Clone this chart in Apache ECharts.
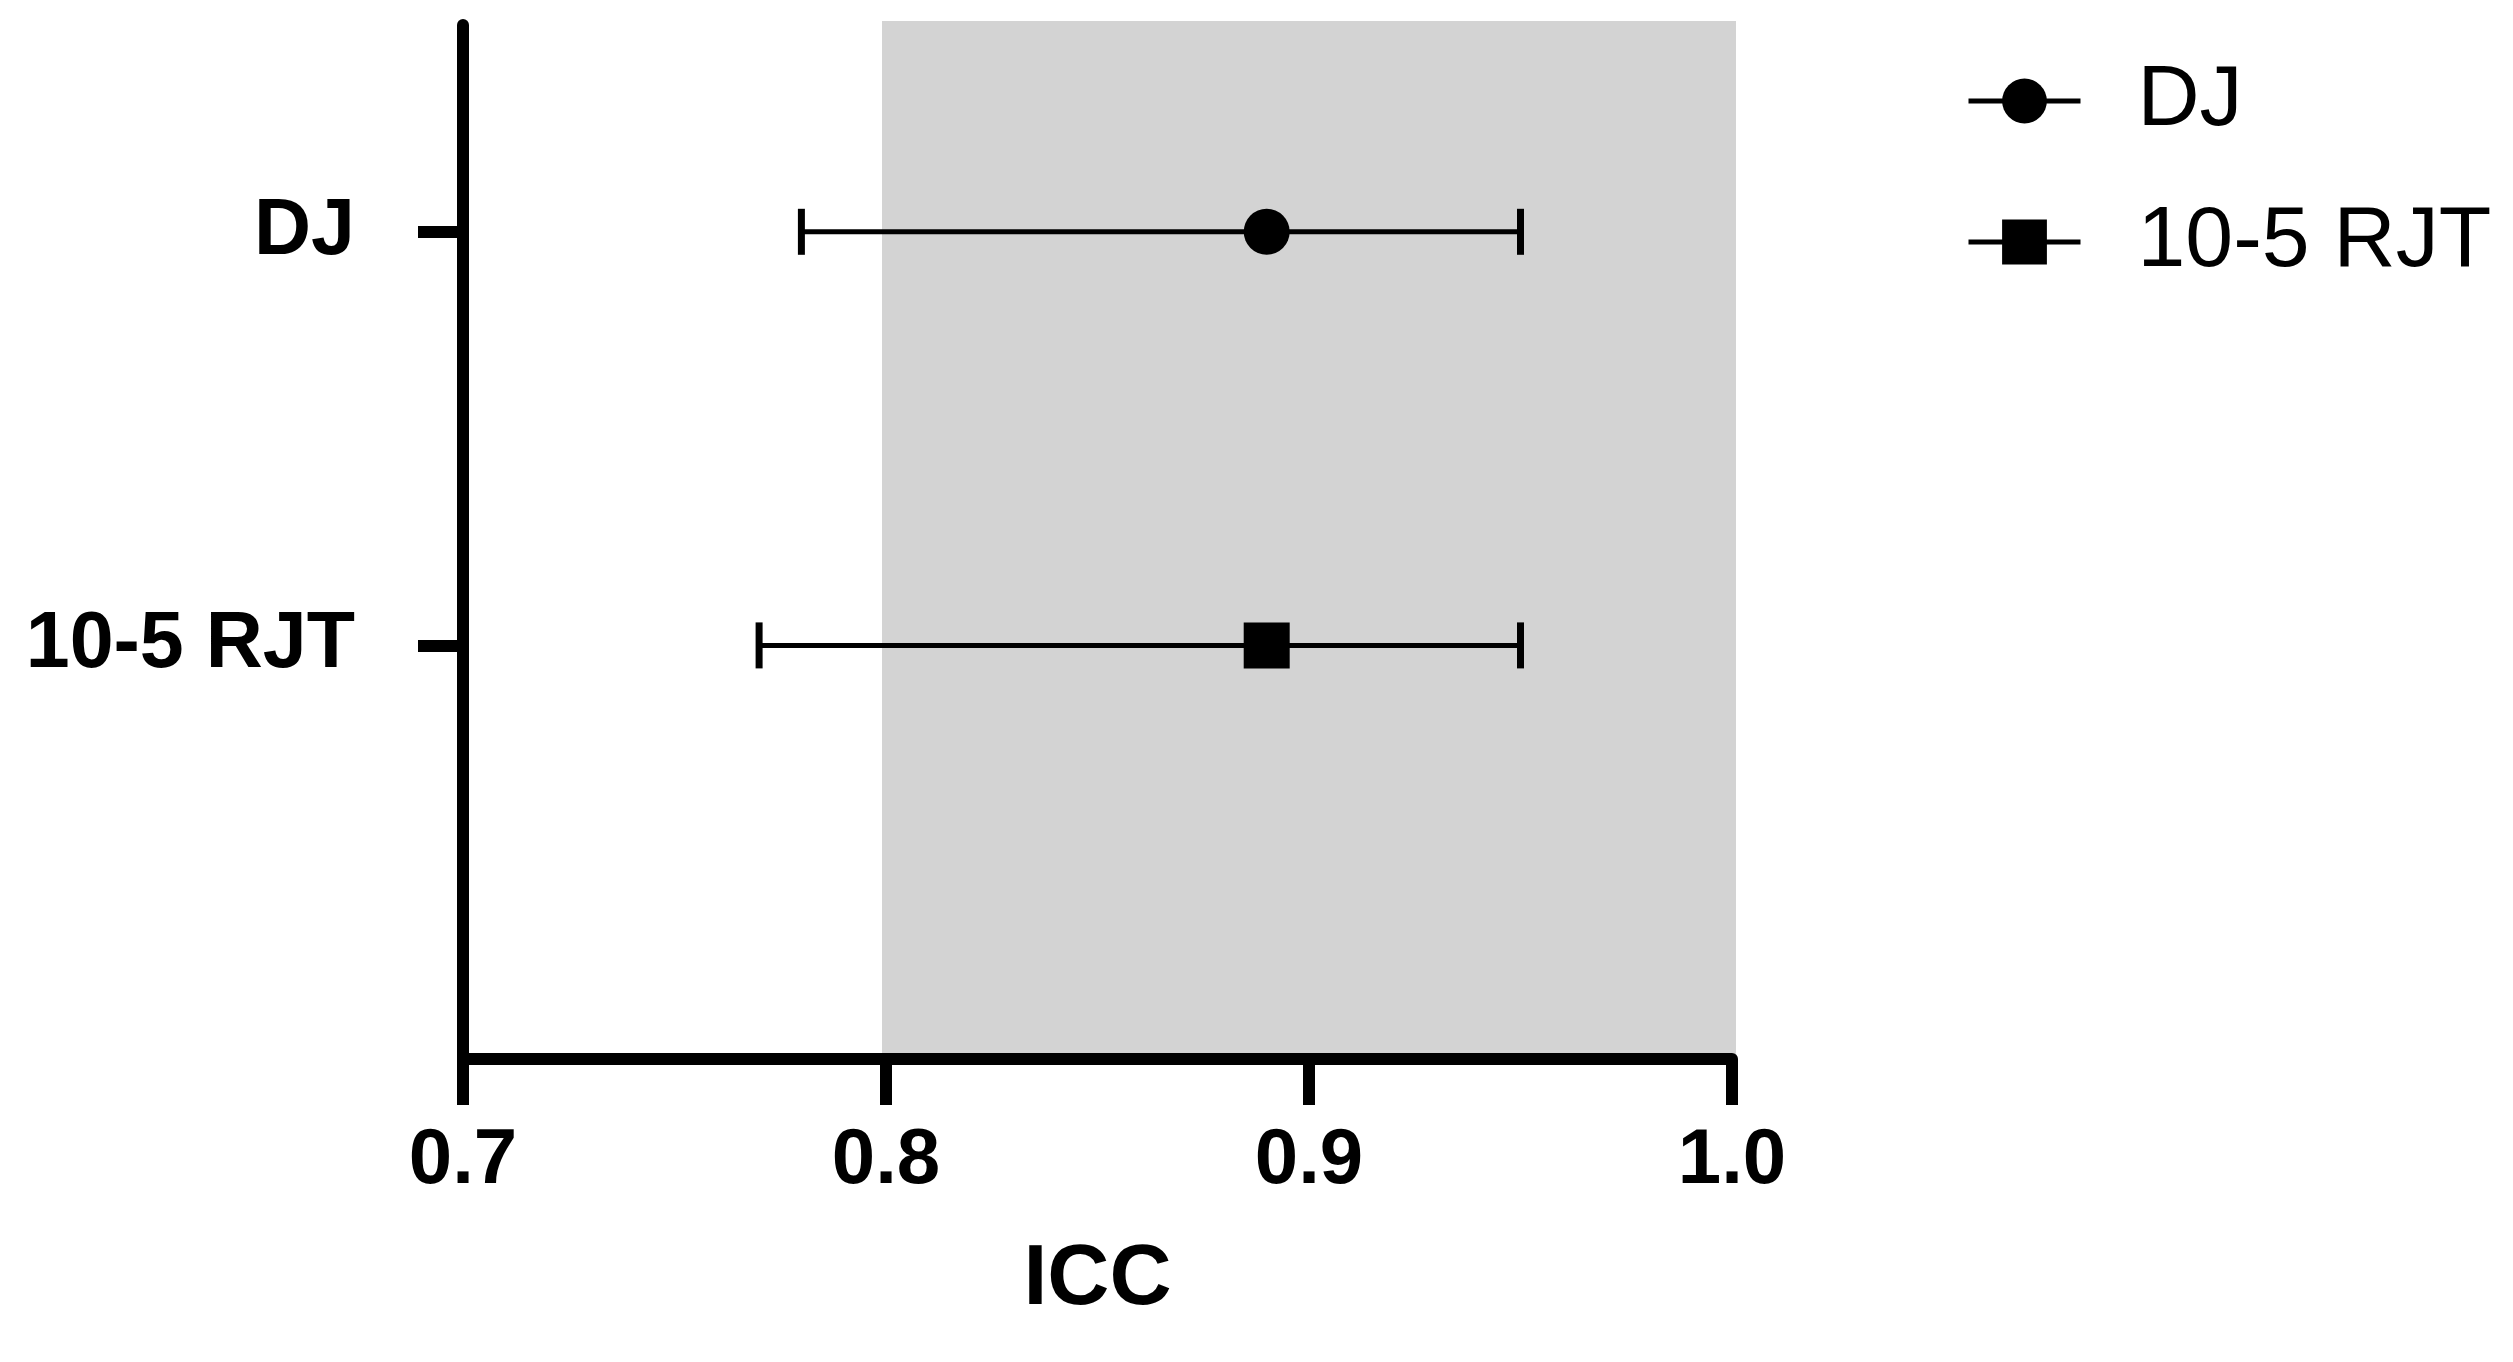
<!DOCTYPE html>
<html>
<head>
<meta charset="utf-8">
<script src="https://cdn.jsdelivr.net/npm/echarts@6/dist/echarts.min.js"></script>
<style>
  html, body { margin: 0; padding: 0; background: #fff; }
  #chart { width: 2513px; height: 1362px; }
</style>
</head>
<body>
<div id="chart"></div>
<script>
// rows on the y axis (value positions 2 = top, 1 = bottom)
const categories = ['DJ', '10-5 RJT']
const rowPos = [2, 1]
const iccValues = [0.89, 0.89]
const ciLower = [0.78, 0.77]
const ciUpper = [0.95, 0.95]
const symbols = ['circle', 'rect']
const xTicks = [0.7, 0.8, 0.9, 1.0]
const shadeRange = [0.8, 1.0]

const FONT = 'Liberation Sans, Arial, sans-serif'

const chart = echarts.init(document.getElementById('chart'))

const labelFor = v => {
  const i = rowPos.indexOf(v)
  return i >= 0 ? categories[i] : ''
}

const errorData = categories.map((c, i) => [ciLower[i], ciUpper[i], rowPos[i]])

const renderErrorBar = (params, api) => {
  const y = api.value(2)
  const p1 = api.coord([api.value(0), y])
  const p2 = api.coord([api.value(1), y])
  const h = 23
  const capStyle = { stroke: '#000', lineWidth: 7 }
  return {
    type: 'group',
    children: [
      { type: 'line', shape: { x1: p1[0], y1: p1[1], x2: p2[0], y2: p2[1] }, style: { stroke: '#000', lineWidth: 5 } },
      { type: 'line', shape: { x1: p1[0], y1: p1[1] - h, x2: p1[0], y2: p1[1] + h }, style: capStyle },
      { type: 'line', shape: { x1: p2[0], y1: p2[1] - h, x2: p2[0], y2: p2[1] + h }, style: capStyle }
    ]
  }
}

const pointSeries = categories.map((name, i) => ({
  name: name,
  type: 'line',
  symbol: symbols[i],
  symbolSize: 46,
  itemStyle: { color: '#000' },
  lineStyle: { color: '#000', width: 5 },
  z: 5,
  data: [[iccValues[i], rowPos[i]]]
}))

const options = {
  animation: false,
  backgroundColor: '#fff',
  grid: {
    left: 463,
    right: 2513 - 1732,
    top: 25,
    bottom: 1362 - 1059,
    outerBoundsMode: 'none'
  },
  legend: {
    orient: 'vertical',
    left: 1966,
    top: 58,
    padding: 0,
    data: categories,
    itemWidth: 112,
    itemHeight: 56,
    itemGap: 55,
    lineStyle: { width: 5, color: '#000' },
    textStyle: {
      fontFamily: FONT,
      fontSize: 86,
      color: '#000',
      padding: [0, 0, 0, 52]
    }
  },
  xAxis: {
    type: 'value',
    min: xTicks[0],
    max: xTicks[xTicks.length - 1],
    interval: 0.1,
    z: 10,
    splitLine: { show: false },
    axisLine: { lineStyle: { color: '#000', width: 12 } },
    axisTick: { length: 46, lineStyle: { color: '#000', width: 12 } },
    axisLabel: {
      margin: 63,
      fontFamily: FONT,
      fontSize: 78,
      fontWeight: 'bold',
      color: '#000',
      formatter: v => v.toFixed(1)
    },
    name: 'ICC',
    nameLocation: 'middle',
    nameGap: 178,
    nameTextStyle: {
      fontFamily: FONT,
      fontSize: 86,
      fontWeight: 'bold',
      color: '#000'
    }
  },
  yAxis: {
    type: 'value',
    min: 0,
    max: 2.5,
    interval: 1,
    z: 10,
    splitLine: { show: false },
    axisLine: { lineStyle: { color: '#000', width: 12 } },
    axisTick: { length: 45, customValues: rowPos, lineStyle: { color: '#000', width: 12 } },
    axisLabel: {
      customValues: rowPos,
      margin: 108,
      fontFamily: FONT,
      fontSize: 79,
      fontWeight: 'bold',
      color: '#000',
      formatter: v => labelFor(v)
    }
  },
  series: [
    {
      type: 'custom',
      name: 'CI',
      renderItem: renderErrorBar,
      encode: { x: [0, 1], y: 2 },
      data: errorData,
      z: 3,
      markArea: {
        silent: true,
        itemStyle: { color: '#d3d3d3', borderColor: '#d3d3d3', borderWidth: 8 },
        data: [[{ xAxis: shadeRange[0] }, { xAxis: shadeRange[1] }]]
      }
    },
    ...pointSeries
  ]
}

chart.setOption(options)
</script>
</body>
</html>
